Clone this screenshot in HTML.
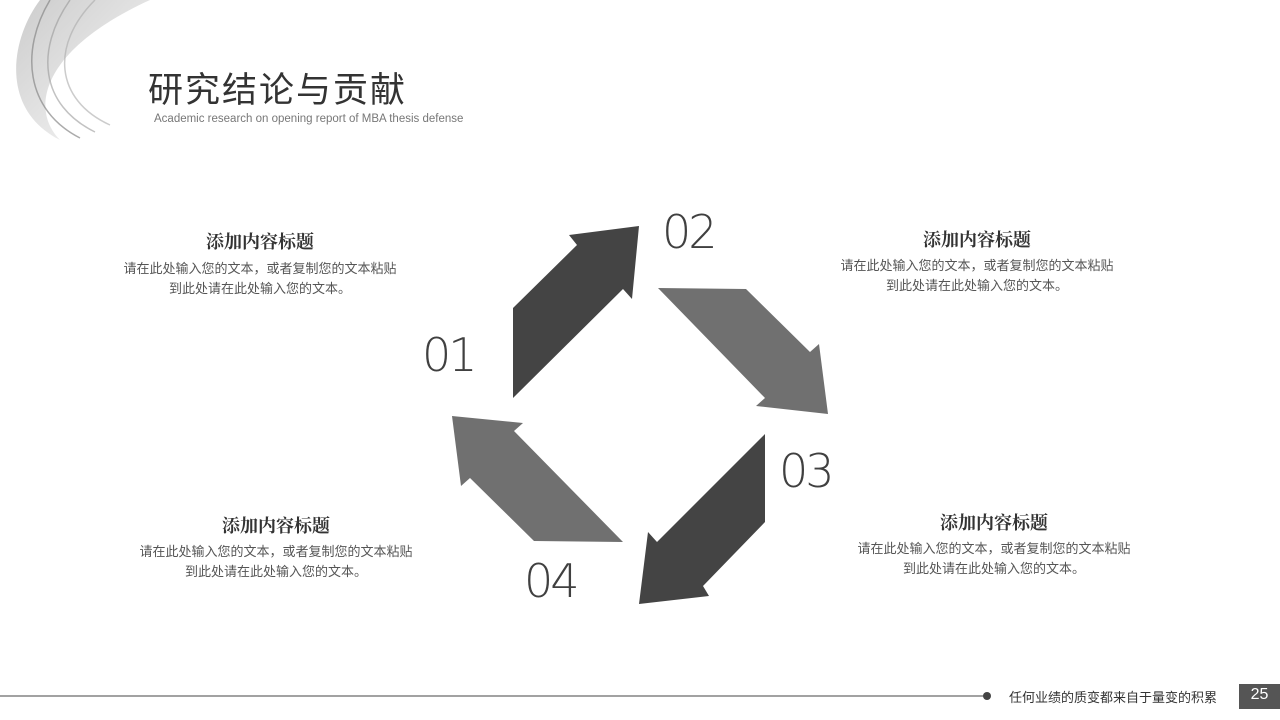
<!DOCTYPE html>
<html><head><meta charset="utf-8"><style>
body{margin:0;width:1280px;height:720px;background:#fff;position:relative;overflow:hidden;font-family:"Liberation Sans","Noto Sans CJK SC",sans-serif}
.a{position:absolute;white-space:nowrap}
.h{font-family:"Noto Serif CJK SC",serif;font-weight:bold;font-size:18px;color:#333;text-align:center}
.p{font-size:13px;color:#555;text-align:center;line-height:20px}
.n{font-size:46px;color:#404040;font-weight:300;font-family:"DejaVu Sans","Liberation Sans",sans-serif;letter-spacing:-3px}
</style></head><body>
<svg class="a" style="left:0;top:0" width="1280" height="720">
<defs><linearGradient id="g" x1="0" y1="0" x2="1" y2="1"><stop offset="0" stop-color="#999"/><stop offset="1" stop-color="#f4f4f4"/></linearGradient></defs>
<path d="M40,0 C10,40 0,110 60,140 C30,110 40,50 150,0 Z" fill="url(#g)" opacity="0.5"/>
<path d="M50,0 C20,50 25,110 80,138" fill="none" stroke="#888" stroke-width="1.5" opacity="0.7"/>
<path d="M70,0 C35,50 40,105 95,132" fill="none" stroke="#999" stroke-width="1.5" opacity="0.6"/>
<path d="M95,0 C50,45 55,100 110,125" fill="none" stroke="#aaa" stroke-width="1.5" opacity="0.6"/>
<polygon points="513,398 513,308 577,245 569,235 639,226 632,299 623,289" fill="#444"/>
<polygon points="658,288 746,289 810,352 819,344 828,414 756,406 765,398" fill="#707070"/>
<polygon points="765,434 765,522 703,586 709,596 639,604 648,532 657,542" fill="#444"/>
<polygon points="623,542 534,541 470,478 461,486 452,416 523,423 514,431" fill="#707070"/>
<line x1="0" y1="696" x2="985" y2="696" stroke="#444" stroke-width="1"/>
<circle cx="987" cy="696" r="4" fill="#444"/>
<rect x="1239" y="684" width="41" height="25" fill="#555"/>
</svg>
<div class="a" style="left:148px;top:67px;font-size:35px;color:#333;letter-spacing:2px;line-height:48px">研究结论与贡献</div>
<div class="a" style="left:154px;top:113px;font-size:11.5px;color:#777">Academic research on opening report of MBA thesis defense</div>
<div class="a n" style="left:662px;top:205px">02</div>
<div class="a n" style="left:422px;top:328px">01</div>
<div class="a n" style="left:779px;top:444px">03</div>
<div class="a n" style="left:524px;top:554px">04</div>
<div class="a h" style="left:110px;top:228px;width:300px">添加内容标题</div>
<div class="a p" style="left:110px;top:259px;width:300px">请在此处输入您的文本，或者复制您的文本粘贴<br>到此处请在此处输入您的文本。</div>
<div class="a h" style="left:827px;top:226px;width:300px">添加内容标题</div>
<div class="a p" style="left:827px;top:256px;width:300px">请在此处输入您的文本，或者复制您的文本粘贴<br>到此处请在此处输入您的文本。</div>
<div class="a h" style="left:126px;top:512px;width:300px">添加内容标题</div>
<div class="a p" style="left:126px;top:542px;width:300px">请在此处输入您的文本，或者复制您的文本粘贴<br>到此处请在此处输入您的文本。</div>
<div class="a h" style="left:844px;top:509px;width:300px">添加内容标题</div>
<div class="a p" style="left:844px;top:539px;width:300px">请在此处输入您的文本，或者复制您的文本粘贴<br>到此处请在此处输入您的文本。</div>
<div class="a" style="left:1009px;top:687px;font-size:13px;color:#333">任何业绩的质变都来自于量变的积累</div>
<div class="a" style="left:1239px;top:686px;width:41px;text-align:center;font-size:16px;color:#fff">25</div>
</body></html>
